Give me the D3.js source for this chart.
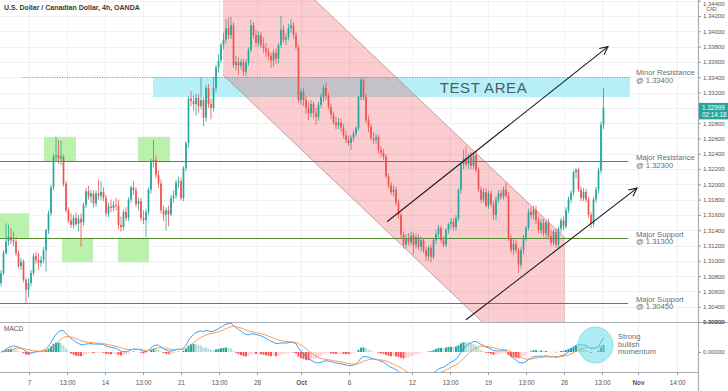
<!DOCTYPE html>
<html><head><meta charset="utf-8">
<script src="https://cdn.jsdelivr.net/npm/d3@7"></script>
<style>html,body{margin:0;padding:0;background:#fff;}svg{display:block;font-family:"Liberation Sans",Arial,sans-serif;}</style>
</head><body><svg id="c" width="728" height="391"></svg>
<script>
// ---------- DATA ----------
const opens = [
1.3071,1.3084,1.3110,1.3125,1.3131,1.3127,1.3125,1.3110,1.3093,1.3099,
1.3075,1.3062,1.3071,1.3084,1.3106,1.3101,1.3097,1.3101,1.3114,1.3140,
1.3162,1.3196,1.3236,1.3238,1.3234,1.3236,1.3201,1.3166,1.3153,1.3147,
1.3156,1.3148,1.3155,1.3150,1.3173,1.3191,1.3184,1.3188,1.3175,1.3188,
1.3185,1.3190,1.3182,1.3162,1.3171,1.3169,1.3173,1.3172,1.3147,1.3144,
1.3164,1.3156,1.3180,1.3196,1.3192,1.3174,1.3178,1.3156,1.3153,1.3164,
1.3193,1.3229,1.3232,1.3212,1.3201,1.3166,1.3160,1.3166,1.3161,1.3182,
1.3185,1.3202,1.3204,1.3182,1.3221,1.3254,1.3312,1.3309,1.3305,1.3313,
1.3302,1.3310,1.3287,1.3326,1.3305,1.3300,1.3326,1.3353,1.3362,1.3382,
1.3389,1.3404,1.3395,1.3408,1.3356,1.3360,1.3355,1.3360,1.3347,1.3359,
1.3376,1.3408,1.3395,1.3385,1.3395,1.3382,1.3378,1.3373,1.3368,1.3362,
1.3372,1.3364,1.3382,1.3402,1.3389,1.3392,1.3404,1.3408,1.3395,1.3379,
1.3310,1.3321,1.3310,1.3300,1.3293,1.3305,1.3293,1.3288,1.3304,1.3314,
1.3326,1.3316,1.3301,1.3291,1.3281,1.3277,1.3281,1.3274,1.3264,1.3258,
1.3254,1.3261,1.3266,1.3274,1.3314,1.3336,1.3314,1.3284,1.3275,1.3260,
1.3258,1.3262,1.3245,1.3241,1.3236,1.3211,1.3199,1.3190,1.3193,1.3176,
1.3160,1.3134,1.3121,1.3130,1.3124,1.3133,1.3121,1.3131,1.3118,1.3127,
1.3114,1.3106,1.3117,1.3105,1.3127,1.3135,1.3143,1.3127,1.3121,1.3140,
1.3148,1.3151,1.3144,1.3156,1.3193,1.3226,1.3234,1.3226,1.3236,1.3224,
1.3238,1.3219,1.3193,1.3180,1.3190,1.3172,1.3188,1.3174,1.3160,1.3180,
1.3188,1.3184,1.3193,1.3185,1.3130,1.3114,1.3122,1.3114,1.3095,1.3114,
1.3130,1.3143,1.3164,1.3160,1.3166,1.3153,1.3140,1.3150,1.3136,1.3150,
1.3132,1.3124,1.3138,1.3121,1.3142,1.3153,1.3145,1.3166,1.3180,1.3189,
1.3216,1.3219,1.3193,1.3182,1.3190,1.3180,1.3160,1.3148,1.3180,1.3193,
1.3218,1.3278];
const highs = [
1.3088,1.3114,1.3149,1.3147,1.3143,1.3138,1.3131,1.3114,1.3104,1.3102,
1.3078,1.3077,1.3088,1.3110,1.3112,1.3110,1.3106,1.3118,1.3142,1.3166,
1.3199,1.3240,1.3262,1.3258,1.3257,1.3239,1.3204,1.3170,1.3162,1.3160,
1.3163,1.3160,1.3162,1.3176,1.3195,1.3198,1.3193,1.3192,1.3192,1.3206,
1.3204,1.3196,1.3186,1.3176,1.3180,1.3178,1.3182,1.3180,1.3158,1.3167,
1.3170,1.3183,1.3198,1.3204,1.3196,1.3182,1.3182,1.3166,1.3168,1.3196,
1.3233,1.3258,1.3238,1.3218,1.3206,1.3172,1.3170,1.3172,1.3186,1.3192,
1.3206,1.3210,1.3208,1.3224,1.3256,1.3315,1.3322,1.3316,1.3318,1.3318,
1.3340,1.3314,1.3330,1.3331,1.3312,1.3340,1.3356,1.3370,1.3385,1.3398,
1.3416,1.3418,1.3419,1.3412,1.3368,1.3366,1.3364,1.3364,1.3364,1.3379,
1.3415,1.3412,1.3402,1.3400,1.3399,1.3392,1.3385,1.3378,1.3372,1.3376,
1.3378,1.3385,1.3420,1.3408,1.3398,1.3410,1.3416,1.3412,1.3399,1.3382,
1.3325,1.3326,1.3315,1.3308,1.3310,1.3308,1.3300,1.3308,1.3318,1.3330,
1.3333,1.3320,1.3305,1.3295,1.3288,1.3287,1.3286,1.3279,1.3270,1.3264,
1.3264,1.3270,1.3276,1.3316,1.3339,1.3338,1.3318,1.3290,1.3279,1.3268,
1.3266,1.3265,1.3250,1.3246,1.3239,1.3214,1.3203,1.3198,1.3197,1.3180,
1.3163,1.3138,1.3135,1.3136,1.3138,1.3137,1.3136,1.3135,1.3132,1.3130,
1.3118,1.3120,1.3121,1.3130,1.3140,1.3147,1.3146,1.3132,1.3143,1.3150,
1.3156,1.3156,1.3160,1.3195,1.3228,1.3245,1.3250,1.3240,1.3242,1.3242,
1.3244,1.3222,1.3197,1.3195,1.3195,1.3192,1.3192,1.3178,1.3184,1.3192,
1.3192,1.3197,1.3202,1.3190,1.3134,1.3128,1.3127,1.3117,1.3118,1.3134,
1.3146,1.3168,1.3170,1.3172,1.3172,1.3158,1.3155,1.3155,1.3153,1.3155,
1.3140,1.3140,1.3142,1.3145,1.3156,1.3158,1.3170,1.3184,1.3192,1.3218,
1.3221,1.3222,1.3197,1.3195,1.3194,1.3184,1.3164,1.3184,1.3197,1.3222,
1.3282,1.3326];
const lows = [
1.3067,1.3081,1.3108,1.3120,1.3122,1.3119,1.3106,1.3090,1.3088,1.3072,
1.3045,1.3052,1.3067,1.3081,1.3096,1.3088,1.3092,1.3097,1.3086,1.3135,
1.3159,1.3192,1.3229,1.3227,1.3225,1.3197,1.3163,1.3150,1.3143,1.3142,
1.3145,1.3138,1.3118,1.3146,1.3169,1.3180,1.3176,1.3170,1.3171,1.3180,
1.3179,1.3178,1.3158,1.3157,1.3164,1.3165,1.3166,1.3141,1.3138,1.3140,
1.3152,1.3152,1.3176,1.3186,1.3170,1.3166,1.3152,1.3148,1.3131,1.3160,
1.3188,1.3222,1.3208,1.3195,1.3162,1.3152,1.3140,1.3145,1.3158,1.3176,
1.3181,1.3195,1.3179,1.3178,1.3217,1.3248,1.3302,1.3296,1.3290,1.3293,
1.3298,1.3276,1.3282,1.3300,1.3285,1.3295,1.3320,1.3346,1.3358,1.3376,
1.3384,1.3390,1.3390,1.3352,1.3349,1.3343,1.3350,1.3342,1.3342,1.3355,
1.3372,1.3390,1.3380,1.3380,1.3378,1.3372,1.3366,1.3362,1.3352,1.3354,
1.3357,1.3358,1.3378,1.3385,1.3382,1.3388,1.3398,1.3390,1.3376,1.3306,
1.3304,1.3302,1.3292,1.3284,1.3288,1.3286,1.3278,1.3283,1.3300,1.3308,
1.3310,1.3298,1.3285,1.3278,1.3272,1.3272,1.3268,1.3260,1.3254,1.3250,
1.3245,1.3256,1.3262,1.3270,1.3310,1.3310,1.3280,1.3268,1.3257,1.3252,
1.3253,1.3240,1.3236,1.3232,1.3208,1.3195,1.3186,1.3184,1.3172,1.3155,
1.3130,1.3116,1.3116,1.3120,1.3120,1.3108,1.3116,1.3114,1.3112,1.3110,
1.3100,1.3100,1.3098,1.3102,1.3122,1.3130,1.3123,1.3118,1.3118,1.3135,
1.3142,1.3140,1.3140,1.3152,1.3188,1.3220,1.3222,1.3220,1.3220,1.3220,
1.3216,1.3190,1.3176,1.3176,1.3170,1.3168,1.3170,1.3153,1.3153,1.3176,
1.3180,1.3180,1.3182,1.3126,1.3110,1.3108,1.3110,1.3084,1.3090,1.3108,
1.3126,1.3140,1.3155,1.3154,1.3148,1.3136,1.3135,1.3132,1.3130,1.3128,
1.3120,1.3120,1.3117,1.3117,1.3136,1.3140,1.3142,1.3162,1.3175,1.3185,
1.3208,1.3190,1.3178,1.3178,1.3176,1.3156,1.3143,1.3144,1.3176,1.3188,
1.3214,1.3272];
const closes = [
1.3084,1.3110,1.3125,1.3131,1.3127,1.3125,1.3110,1.3093,1.3099,1.3075,
1.3062,1.3071,1.3084,1.3106,1.3101,1.3097,1.3101,1.3114,1.3140,1.3162,
1.3196,1.3236,1.3238,1.3234,1.3236,1.3201,1.3166,1.3153,1.3147,1.3156,
1.3148,1.3155,1.3150,1.3173,1.3191,1.3184,1.3188,1.3175,1.3188,1.3185,
1.3190,1.3182,1.3162,1.3171,1.3169,1.3173,1.3172,1.3147,1.3144,1.3164,
1.3156,1.3180,1.3196,1.3192,1.3174,1.3178,1.3156,1.3153,1.3164,1.3193,
1.3229,1.3232,1.3212,1.3201,1.3166,1.3160,1.3166,1.3161,1.3182,1.3185,
1.3202,1.3204,1.3182,1.3221,1.3254,1.3312,1.3309,1.3305,1.3313,1.3302,
1.3310,1.3287,1.3326,1.3305,1.3300,1.3326,1.3353,1.3362,1.3382,1.3389,
1.3404,1.3395,1.3408,1.3356,1.3360,1.3355,1.3360,1.3347,1.3359,1.3376,
1.3408,1.3395,1.3385,1.3395,1.3382,1.3378,1.3373,1.3368,1.3362,1.3372,
1.3364,1.3382,1.3402,1.3389,1.3392,1.3404,1.3408,1.3395,1.3379,1.3310,
1.3321,1.3310,1.3300,1.3293,1.3305,1.3293,1.3288,1.3304,1.3314,1.3326,
1.3316,1.3301,1.3291,1.3281,1.3277,1.3281,1.3274,1.3264,1.3258,1.3254,
1.3261,1.3266,1.3274,1.3314,1.3336,1.3314,1.3284,1.3275,1.3260,1.3258,
1.3262,1.3245,1.3241,1.3236,1.3211,1.3199,1.3190,1.3193,1.3176,1.3160,
1.3134,1.3121,1.3130,1.3124,1.3133,1.3121,1.3131,1.3118,1.3127,1.3114,
1.3106,1.3117,1.3105,1.3127,1.3135,1.3143,1.3127,1.3121,1.3140,1.3148,
1.3151,1.3144,1.3156,1.3193,1.3226,1.3234,1.3226,1.3236,1.3224,1.3238,
1.3219,1.3193,1.3180,1.3190,1.3172,1.3188,1.3174,1.3160,1.3180,1.3188,
1.3184,1.3193,1.3185,1.3130,1.3114,1.3122,1.3114,1.3095,1.3114,1.3130,
1.3143,1.3164,1.3160,1.3166,1.3153,1.3140,1.3150,1.3136,1.3150,1.3132,
1.3124,1.3138,1.3121,1.3142,1.3153,1.3145,1.3166,1.3180,1.3189,1.3216,
1.3219,1.3193,1.3182,1.3190,1.3180,1.3160,1.3148,1.3180,1.3193,1.3218,
1.3278,1.32999];

const priceTicks = [1.344,1.342,1.340,1.338,1.336,1.334,1.332,1.330,1.328,1.326,1.324,1.322,1.320,1.318,1.316,1.314,1.312,1.310,1.308,1.306,1.304,1.302];
const macdTicks = [0.005, 0];
const timeLabels = ["7","13:00","14","13:00","21","13:00","28","Oct","6","12","13:00","19","13:00","26","13:00","Nov","14:00"];
const timeTickIdx = [11.2,26.4,41.6,56.8,72,87.2,102.4,120,139.2,164.4,179.6,194.8,210,225.2,240.4,254.8,270.4];

const levelPrices = [1.323, 1.313, 1.3045];
const levelNotes = [["Major Resistance","@ 1.32300"],["Major Support","@ 1.31300"],["Major Support","@ 1.30450"]];
const minorPrice = 1.334;
const minorNote = ["Minor Resistance","@ 1.33400"];
const testArea = {i0: 60.8, i1: 251.6, top: 1.3340, bottom: 1.3314};
const greenBoxes = [[-0.4,11.2,1.3162,1.3130],[17.2,30,1.3262,1.3230],[24.4,36.8,1.3130,1.3098],[46.8,59.2,1.3130,1.3098],[54.8,67.6,1.3262,1.3230]];
const channel = [[88.8,1.3555],[225.6,1.3130],[225.6,1.2917],[88.8,1.3343]];
const trendUpper = [[154.4,1.3151],[242.8,1.3380]];
const trendLower = [[186,1.3023],[254.4,1.3195]];
const lastPrice = 1.32999, countdown = "02:14:18";
const macdNote = ["Strong","bullish","momentum"];

// ---------- CHART ----------
const W=728, H=391, PR=698, MB=322, MCB=372;
const svg = d3.select('#c');
const x = d3.scaleLinear().domain([0,241]).range([1,603.5]);
const y = d3.scaleLinear().domain([1.302,1.342]).range([322,16]);
const ym = d3.scaleLinear().domain([0,0.005]).range([352,322]);

const defs = svg.append('defs');
defs.append('clipPath').attr('id','cm').append('rect').attr('x',0).attr('y',0).attr('width',PR).attr('height',MB);
defs.append('clipPath').attr('id','cd').append('rect').attr('x',0).attr('y',MB).attr('width',PR).attr('height',MCB-MB);

// grid
const grid = svg.append('g');
grid.selectAll('.hg').data(priceTicks).join('line')
  .attr('x1',0).attr('x2',PR).attr('y1',d=>Math.round(y(d))+0.5).attr('y2',d=>Math.round(y(d))+0.5)
  .attr('stroke','#eef1f5');
grid.selectAll('.vg').data(timeTickIdx).join('line')
  .attr('x1',d=>Math.round(x(d))+0.5).attr('x2',d=>Math.round(x(d))+0.5).attr('y1',0).attr('y2',MCB)
  .attr('stroke','#eef1f5');

const main = svg.append('g').attr('clip-path','url(#cm)');
// test area
main.append('rect').attr('x',x(testArea.i0)).attr('width',x(testArea.i1)-x(testArea.i0))
  .attr('y',y(testArea.top)).attr('height',y(testArea.bottom)-y(testArea.top)).attr('fill','#b6eff6');
// channel
main.append('path')
  .attr('d',d3.line().x(d=>x(d[0])).y(d=>y(d[1]))(channel)+'Z')
  .attr('fill','rgba(242,54,69,0.25)').attr('stroke','none');
main.append('line').attr('x1',x(channel[0][0])).attr('y1',y(channel[0][1])).attr('x2',x(channel[1][0])).attr('y2',y(channel[1][1]))
  .attr('stroke','#b78d8f').attr('stroke-width',0.8);
main.append('line').attr('x1',x(channel[3][0])).attr('y1',y(channel[3][1])).attr('x2',x(channel[2][0])).attr('y2',y(channel[2][1]))
  .attr('stroke','#b78d8f').attr('stroke-width',0.8);
// green boxes
main.selectAll('.gb').data(greenBoxes).join('rect')
  .attr('x',d=>x(d[0])).attr('width',d=>x(d[1])-x(d[0]))
  .attr('y',d=>y(d[2])).attr('height',d=>y(d[3])-y(d[2]))
  .attr('fill','#b9f1ad');
// level lines
main.selectAll('.lv').data(levelPrices).join('line')
  .attr('x1',x(-0.4)).attr('x2',x(250.8)).attr('y1',d=>Math.round(y(d))+0.5).attr('y2',d=>Math.round(y(d))+0.5)
  .attr('stroke','#568a35').attr('stroke-width',1);
main.append('line').attr('x1',x(8.4)).attr('x2',x(251.6)).attr('y1',Math.round(y(minorPrice))+0.5).attr('y2',Math.round(y(minorPrice))+0.5)
  .attr('stroke','#777').attr('stroke-width',0.8).attr('stroke-dasharray','1,1.5');

// candles
const idx = d3.range(closes.length);
const up = i => closes[i] >= opens[i];
const GC='#26a69a', RC='#ef5350';
main.selectAll('.wk').data(idx).join('line')
  .attr('x1',i=>x(i)).attr('x2',i=>x(i)).attr('y1',i=>y(highs[i])).attr('y2',i=>y(lows[i]))
  .attr('stroke',i=>up(i)?GC:RC).attr('stroke-width',0.8);
main.selectAll('.bd').data(idx).join('rect')
  .attr('x',i=>x(i)-0.85).attr('width',1.7)
  .attr('y',i=>y(Math.max(opens[i],closes[i])))
  .attr('height',i=>Math.max(0.8,Math.abs(y(opens[i])-y(closes[i]))))
  .attr('fill',i=>up(i)?GC:RC);

// trend lines with arrows
function arrow(g, pts){
  const x1=x(pts[0][0]), y1=y(pts[0][1]), x2=x(pts[1][0]), y2=y(pts[1][1]);
  g.append('line').attr('x1',x1).attr('y1',y1).attr('x2',x2).attr('y2',y2).attr('stroke','#1b1b1b').attr('stroke-width',1.1);
  const a=Math.atan2(y2-y1,x2-x1), L=9, s=0.45;
  const p = d3.path();
  p.moveTo(x2-L*Math.cos(a-s), y2-L*Math.sin(a-s)); p.lineTo(x2,y2); p.lineTo(x2-L*Math.cos(a+s), y2-L*Math.sin(a+s));
  g.append('path').attr('d',p.toString()).attr('fill','none').attr('stroke','#1b1b1b').attr('stroke-width',1.1);
}
arrow(svg, trendUpper);
arrow(svg, trendLower);

// TEST AREA label
svg.append('text').attr('x',(x(testArea.i0)+x(testArea.i1))/2+92).attr('y',(y(testArea.top)+y(testArea.bottom))/2+5.5)
  .attr('text-anchor','middle').attr('font-size',15).attr('fill','#4e5d6c').attr('letter-spacing',0.6).text('TEST AREA');

// right notes
const notes = svg.append('g').attr('font-size',7.6).attr('fill','#5f6e7d');
levelPrices.forEach((p,k)=>{
  notes.append('text').attr('x',636).attr('y',y(p)-1).text(levelNotes[k][0]);
  notes.append('text').attr('x',636).attr('y',y(p)+6.5).text(levelNotes[k][1]);
});
notes.append('text').attr('x',636).attr('y',y(minorPrice)-2).text(minorNote[0]);
notes.append('text').attr('x',636).attr('y',y(minorPrice)+5.5).text(minorNote[1]);

// title
svg.append('text').attr('x',4).attr('y',10).attr('font-size',7).attr('font-weight','bold').attr('fill','#3b3b3b')
  .text('U.S. Dollar / Canadian Dollar, 4h, OANDA');

// ---------- MACD ----------
function ema(arr,n){ const k=2/(n+1); let e=arr[0]; return arr.map((v,i)=> i===0?e:(e=v*k+e*(1-k))); }
const e12=ema(closes,12), e26=ema(closes,26);
const macd=closes.map((c,i)=>e12[i]-e26[i]);
const signal=ema(macd,9);
const hist=macd.map((m,i)=>m-signal[i]);
const md = svg.append('g').attr('clip-path','url(#cd)');
md.selectAll('.hb').data(idx).join('rect')
  .attr('x',i=>x(i)-1).attr('width',2)
  .attr('y',i=>Math.min(ym(hist[i]),ym(0))).attr('height',i=>Math.abs(ym(hist[i])-ym(0)))
  .attr('fill',i=>{const h=hist[i], p=i>0?hist[i-1]:h;
     if(h>=0) return h>=p?'#26a69a':'#b2dfdb'; return h<p?'#ff5252':'#ffcdd2';});
md.append('path').attr('d',d3.line().x(i=>x(i)).y(i=>ym(macd[i]))(idx)).attr('fill','none').attr('stroke','#2196f3').attr('stroke-width',0.9);
md.append('path').attr('d',d3.line().x(i=>x(i)).y(i=>ym(signal[i]))(idx)).attr('fill','none').attr('stroke','#ff8f3a').attr('stroke-width',0.9);
svg.append('ellipse').attr('cx',595.5).attr('cy',345).attr('rx',17.5).attr('ry',18)
  .attr('fill','rgba(95,215,232,0.5)').attr('stroke','#7cd9e6').attr('stroke-width',0.8);
svg.append('text').attr('x',4).attr('y',331).attr('font-size',6.5).attr('fill','#555').text('MACD');
const mn = svg.append('g').attr('font-size',7.6).attr('fill','#5f6e7d');
macdNote.forEach((t,k)=> mn.append('text').attr('x',618).attr('y',339+k*7.6).text(t));

// ---------- AXES ----------
svg.append('line').attr('x1',0).attr('x2',W).attr('y1',MB+0.5).attr('y2',MB+0.5).attr('stroke','#a9acb3').attr('stroke-width',1.2);
svg.append('line').attr('x1',0).attr('x2',PR).attr('y1',MCB+0.5).attr('y2',MCB+0.5).attr('stroke','#a9acb3');
svg.append('line').attr('x1',PR+0.5).attr('x2',PR+0.5).attr('y1',0).attr('y2',H).attr('stroke','#a9acb3').attr('stroke-width',1.2);

const styleAxis = g => { g.select('.domain').remove(); g.selectAll('line').attr('stroke','#9a9da4');
  g.selectAll('text').attr('fill','#555').attr('font-size',6).attr('font-family','"Liberation Sans",Arial,sans-serif'); };
const pax = svg.append('g').attr('transform',`translate(${PR},0)`)
  .call(d3.axisRight(y).tickValues(priceTicks).tickSize(3).tickPadding(2).tickFormat(d3.format('.5f'))).call(styleAxis);
// keep the top label inside the picture
pax.selectAll('text').filter(d=>d===priceTicks[0]).attr('dy','0.8em');
svg.append('g').attr('transform',`translate(${PR},0)`)
  .call(d3.axisRight(ym).tickValues(macdTicks).tickSize(3).tickPadding(2).tickFormat(d3.format('.5f'))).call(styleAxis);
const tx = svg.append('g').attr('transform',`translate(0,${MCB})`)
  .call(d3.axisBottom(x).tickValues(timeTickIdx).tickSize(3).tickPadding(6).tickFormat((d,i)=>timeLabels[i])).call(styleAxis);
tx.selectAll('text').attr('font-size',6.3).attr('font-weight',(d,i)=>(timeLabels[i]==='Oct'||timeLabels[i]==='Nov')?'bold':'normal');

// CAD label
svg.append('rect').attr('x',705).attr('y',7.2).attr('width',13).attr('height',5.2).attr('fill','#fff').attr('stroke','#e2e2e2').attr('stroke-width',0.5);
svg.append('text').attr('x',711.5).attr('y',11.4).attr('text-anchor','middle').attr('font-size',4.8).attr('fill','#555').text('CAD');

// last price label
const ly = y(lastPrice);
svg.append('rect').attr('x',PR+1).attr('y',ly-5).attr('width',W-PR-1).attr('height',16.5).attr('fill','#26a69a');
svg.append('text').attr('x',702).attr('y',ly+2).attr('font-size',6.3).attr('fill','#fff').text(d3.format('.5f')(lastPrice));
svg.append('text').attr('x',702).attr('y',ly+9.5).attr('font-size',6.3).attr('fill','#fff').text(countdown);
</script></body></html>
